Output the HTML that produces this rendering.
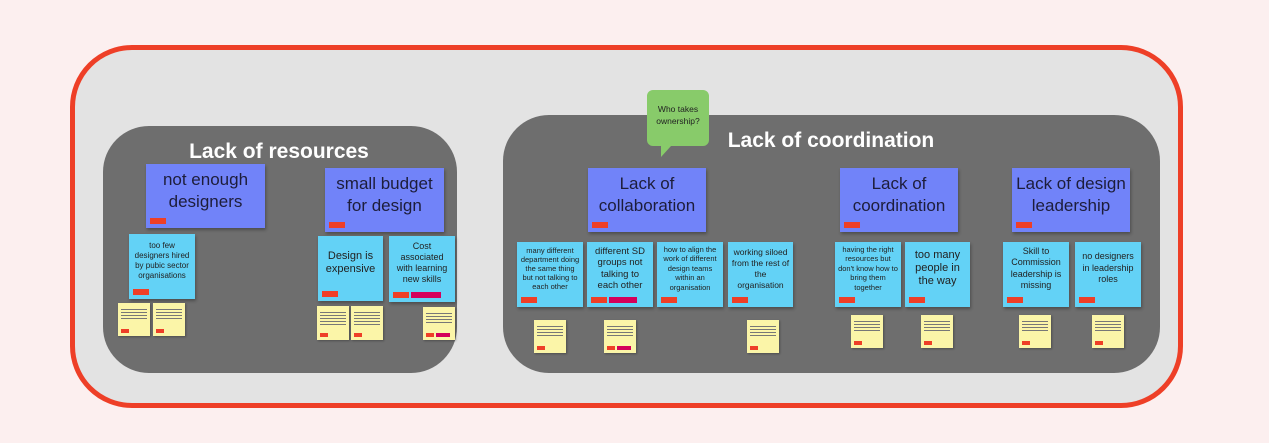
<!DOCTYPE html>
<html><head><meta charset="utf-8"><style>
body{margin:0;width:1269px;height:443px;background:#fcefef;position:relative;overflow:hidden;font-family:"Liberation Sans",sans-serif}
div{position:absolute;box-sizing:border-box}
.outer{left:70px;top:45px;width:1113px;height:363px;border:5px solid #ee3f27;border-radius:62px;background:#e3e3e3}
.panel{background:#6e6e6e;border-radius:46px}
.t{color:#fff;font-weight:bold;font-size:21px;text-align:center;white-space:nowrap}
.p{background:#7183f9;color:#1d1d3a;text-align:center;font-size:17px;line-height:22px;display:flex;align-items:center;justify-content:center;padding-bottom:10px;box-shadow:1px 2px 3px rgba(0,0,0,.3)}
.c{background:#63d2f6;color:#222;text-align:center;font-size:8px;line-height:10px;display:flex;align-items:center;justify-content:center;padding:0 3px 12px;box-shadow:1px 2px 3px rgba(0,0,0,.3)}
.c.b{font-size:11px;line-height:13px}
.y{background:#fbf5a8;width:32px;height:33px;box-shadow:1px 1px 2px rgba(0,0,0,.3);padding:4px 3px}
.y i{display:block;height:1px;background:#777;margin:2px 0}
.r{background:#ee3f27;width:16px;height:6px;left:4px;bottom:4px}
.m{background:#d4005a;width:30px;height:6px;bottom:4px}
.y .r{width:8px;height:4px;bottom:3px;left:3px}
.y .m{width:14px;height:4px;bottom:3px}
</style></head><body>
<div class="outer"></div>
<div class="panel" style="left:103px;top:126px;width:354px;height:247px"></div>
<div class="panel" style="left:503px;top:115px;width:657px;height:258px"></div>
<div class="t" style="left:179px;top:140px;width:200px">Lack of resources</div>
<div class="t" style="left:720px;top:129px;width:222px">Lack of coordination</div>

<svg style="position:absolute;left:645px;top:88px" width="66" height="72"><path d="M8 2h50a6 6 0 0 1 6 6v44a6 6 0 0 1-6 6H26l-10 11v-11H8a6 6 0 0 1-6-6V8a6 6 0 0 1 6-6z" fill="#88cb6a"/><text x="33" y="24" font-size="8.5" text-anchor="middle" font-family="Liberation Sans" fill="#222">Who takes</text><text x="33" y="36" font-size="8.5" text-anchor="middle" font-family="Liberation Sans" fill="#222">ownership?</text></svg>

<div class="p" style="left:146px;top:164px;width:119px;height:64px">not enough<br>designers<div class="r"></div></div>
<div class="p" style="left:325px;top:168px;width:119px;height:64px">small budget<br>for design<div class="r"></div></div>
<div class="p" style="left:588px;top:168px;width:118px;height:64px">Lack of<br>collaboration<div class="r"></div></div>
<div class="p" style="left:840px;top:168px;width:118px;height:64px">Lack of<br>coordination<div class="r"></div></div>
<div class="p" style="left:1012px;top:168px;width:118px;height:64px">Lack of design<br>leadership<div class="r"></div></div>

<div class="c" style="left:129px;top:234px;width:66px;height:65px">too few designers hired by pubic sector organisations<div class="r"></div></div>
<div class="c b" style="left:318px;top:236px;width:65px;height:65px">Design is expensive<div class="r"></div></div>
<div class="c" style="left:389px;top:236px;width:66px;height:66px;font-size:9px;line-height:11px">Cost associated with learning new skills<div class="r"></div><div class="m" style="left:22px"></div></div>

<div class="c" style="left:517px;top:242px;width:66px;height:65px;font-size:7.5px;line-height:9px">many different department doing the same thing but not talking to each other<div class="r"></div></div>
<div class="c" style="left:587px;top:242px;width:66px;height:65px;font-size:9.5px;line-height:11.5px">different SD groups not talking to each other<div class="r"></div><div class="m" style="left:22px;width:28px"></div></div>
<div class="c" style="left:657px;top:242px;width:66px;height:65px;font-size:7.5px;line-height:9.5px">how to align the work of different design teams within an organisation<div class="r"></div></div>
<div class="c" style="left:728px;top:242px;width:65px;height:65px;font-size:8.5px;line-height:11px">working siloed from the rest of the organisation<div class="r"></div></div>
<div class="c" style="left:835px;top:242px;width:66px;height:65px;font-size:7.5px;line-height:9.5px">having the right resources but don't know how to bring them together<div class="r"></div></div>
<div class="c b" style="left:905px;top:242px;width:65px;height:65px">too many people in the way<div class="r"></div></div>
<div class="c" style="left:1003px;top:242px;width:66px;height:65px;font-size:9px;line-height:11.5px">Skill to Commission leadership is missing<div class="r"></div></div>
<div class="c" style="left:1075px;top:242px;width:66px;height:65px;font-size:9px;line-height:11.5px">no designers in leadership roles<div class="r"></div></div>

<div class="y" style="left:118px;top:303px"><i></i><i></i><i></i><i></i><div class="r"></div></div>
<div class="y" style="left:153px;top:303px"><i></i><i></i><i></i><i></i><div class="r"></div></div>
<div class="y" style="left:317px;top:306px;height:34px"><i></i><i></i><i></i><i></i><i></i><div class="r"></div></div>
<div class="y" style="left:351px;top:306px;height:34px"><i></i><i></i><i></i><i></i><i></i><div class="r"></div></div>
<div class="y" style="left:423px;top:307px"><i></i><i></i><i></i><i></i><div class="r"></div><div class="m" style="left:13px"></div></div>
<div class="y" style="left:534px;top:320px"><i></i><i></i><i></i><i></i><div class="r"></div></div>
<div class="y" style="left:604px;top:320px"><i></i><i></i><i></i><i></i><div class="r"></div><div class="m" style="left:13px"></div></div>
<div class="y" style="left:747px;top:320px"><i></i><i></i><i></i><i></i><div class="r"></div></div>
<div class="y" style="left:851px;top:315px"><i></i><i></i><i></i><i></i><div class="r"></div></div>
<div class="y" style="left:921px;top:315px"><i></i><i></i><i></i><i></i><div class="r"></div></div>
<div class="y" style="left:1019px;top:315px"><i></i><i></i><i></i><i></i><div class="r"></div></div>
<div class="y" style="left:1092px;top:315px"><i></i><i></i><i></i><i></i><div class="r"></div></div>
</body></html>
